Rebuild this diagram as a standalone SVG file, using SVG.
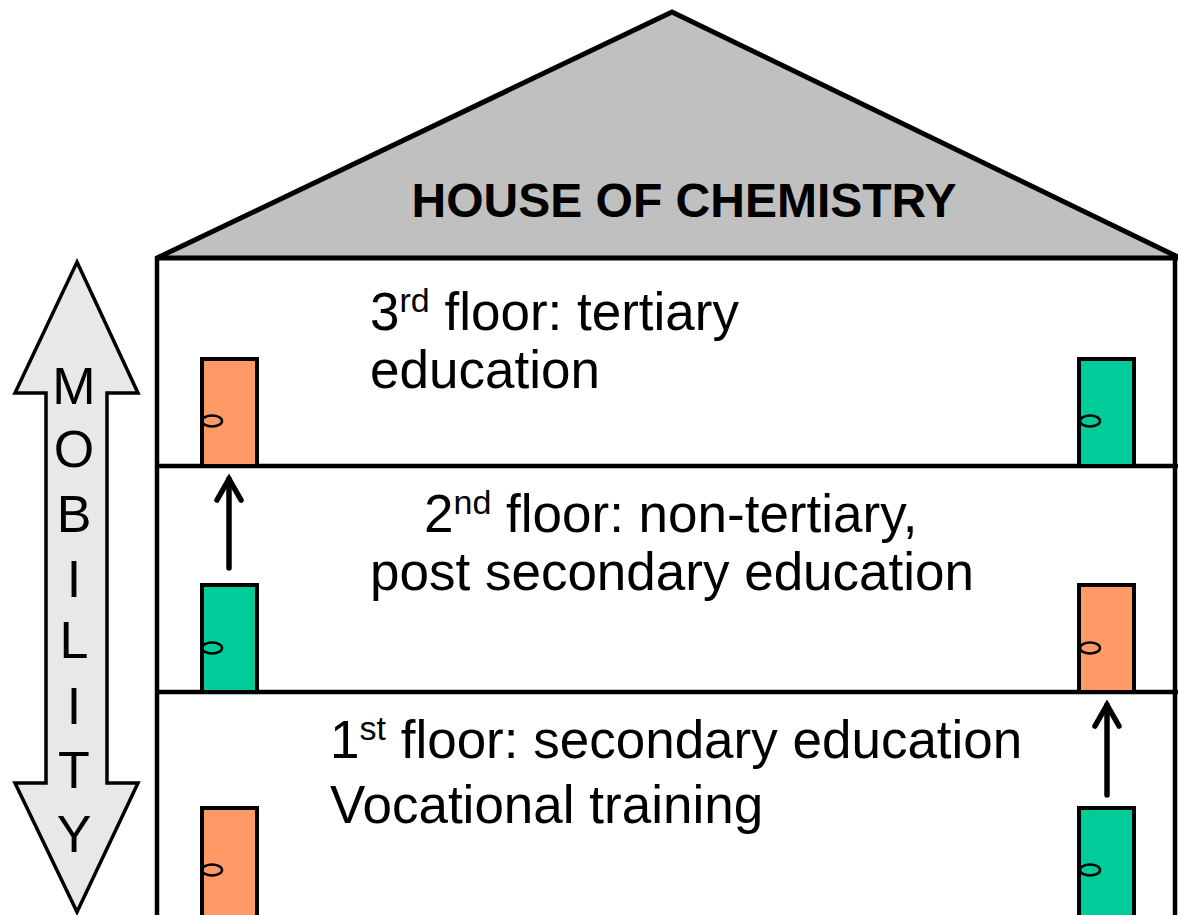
<svg xmlns="http://www.w3.org/2000/svg" width="1178" height="915" viewBox="0 0 1178 915">
<style>
.t{font-family:"Liberation Sans",Arial,sans-serif;fill:#000}
.door{stroke:#000;stroke-width:4}
.orange{fill:#FF9966}
.green{fill:#00CC99}
.knob{fill:none;stroke:#000;stroke-width:2.5}
.wall{stroke:#000;stroke-width:4.5;fill:none}
.arr{stroke:#000;stroke-width:5.5;fill:none;stroke-linecap:round}
</style>
<rect width="1178" height="915" fill="#fff"/>
<g id="mobility">
<polygon points="77,262 138,393 107,393 107,783 138,783 77,912 15,783 46,783 46,393 15,393" fill="#E8E8E8" stroke="#000" stroke-width="3.5" stroke-linejoin="miter"/>
<g class="t" font-size="52" text-anchor="middle">
<text x="74" y="404">M</text>
<text x="74" y="467">O</text>
<text x="74" y="532">B</text>
<text x="74" y="597">I</text>
<text x="74" y="658">L</text>
<text x="74" y="724">I</text>
<text x="74" y="788">T</text>
<text x="74" y="852">Y</text>
</g>
</g>
<g id="roof">
<polygon points="157,258 672,12 1180,258" fill="#C0C0C0" stroke="#000" stroke-width="5" stroke-linejoin="miter"/>
<text class="t" x="684" y="217" font-size="48" font-weight="bold" text-anchor="middle">HOUSE OF CHEMISTRY</text>
</g>
<g id="house">
<line class="wall" x1="157" y1="256" x2="157" y2="920"/>
<line class="wall" x1="1175" y1="256" x2="1175" y2="920"/>
<line class="wall" x1="155" y1="466" x2="1178" y2="466"/>
<line class="wall" x1="155" y1="692" x2="1178" y2="692"/>
</g>
<g id="floor3">
<text class="t" x="370" y="330" font-size="53">3<tspan font-size="34" dy="-18">rd</tspan><tspan dy="18"> floor: tertiary</tspan></text>
<text class="t" x="370" y="388" font-size="53">education</text>
<g id="door3L"><rect class="door orange" x="202" y="359" width="55" height="107"/><ellipse class="knob" cx="212" cy="421" rx="10" ry="5.5"/></g>
<g id="door3R"><rect class="door green" x="1079" y="359" width="55" height="107"/><ellipse class="knob" cx="1090" cy="421" rx="10" ry="5.5"/></g>
</g>
<g id="floor2">
<text class="t" x="424" y="532" font-size="53">2<tspan font-size="34" dy="-18">nd</tspan><tspan dy="18"> floor: non-tertiary,</tspan></text>
<text class="t" x="370" y="590" font-size="53">post secondary education</text>
<g id="door2L"><rect class="door green" x="202" y="585" width="55" height="107"/><ellipse class="knob" cx="212" cy="648" rx="10" ry="5.5"/></g>
<g id="door2R"><rect class="door orange" x="1079" y="585" width="55" height="107"/><ellipse class="knob" cx="1090" cy="648" rx="10" ry="5.5"/></g>
</g>
<g id="floor1">
<text class="t" x="330" y="758" font-size="53">1<tspan font-size="34" dy="-18">st</tspan><tspan dy="18"> floor: secondary education</tspan></text>
<text class="t" x="330" y="823" font-size="53">Vocational training</text>
<g id="door1L"><rect class="door orange" x="202" y="808" width="55" height="112"/><ellipse class="knob" cx="212" cy="870" rx="10" ry="5.5"/></g>
<g id="door1R"><rect class="door green" x="1079" y="808" width="55" height="112"/><ellipse class="knob" cx="1090" cy="870" rx="10" ry="5.5"/></g>
</g>
<g id="connectors">
<polyline class="arr" points="229,568 229,479"/>
<polyline class="arr" points="217,500 229,479 241,500" stroke-linejoin="miter"/>
<polyline class="arr" points="1107,795 1107,705"/>
<polyline class="arr" points="1095,726 1107,705 1119,726" stroke-linejoin="miter"/>
</g>
</svg>
